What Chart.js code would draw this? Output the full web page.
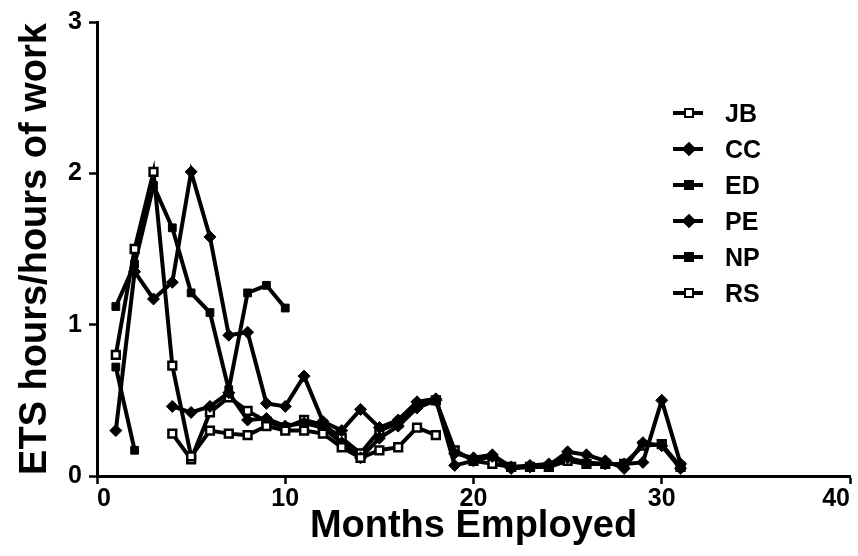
<!DOCTYPE html>
<html>
<head>
<meta charset="utf-8">
<script src="https://cdn.jsdelivr.net/npm/chart.js@4.4.1/dist/chart.umd.min.js"></script>
<style>
  body { margin: 0; background: #fff; }
  #wrap { position: relative; width: 858px; height: 556px; }
  #legend { position: absolute; left: 673px; top: 95px; font: bold 25px "Liberation Sans", Arial, sans-serif; color: #000; }
  .row { display: flex; align-items: center; height: 36px; }
  .sym { position: relative; width: 30px; height: 36px; margin-right: 22px; }
  .sym .ln { position: absolute; left: 0; top: 16px; width: 30px; height: 4px; background: #000; }
  .sym .mk { position: absolute; left: 11px; top: 13px; width: 6px; height: 6px; border: 2.5px solid #000; background: #fff; }
  .sym .mk.fill { background: #000; }
  .sym .mk.dia { transform: rotate(45deg); }
</style>
</head>
<body>
<div id="wrap">
  <canvas id="chart" width="858" height="556"></canvas>
  <div id="legend"></div>
</div>
<script>
// months employed (x values)
var months = [1,2,3,4,5,6,7,8,9,10,11,12,13,14,15,16,17,18,19,20,21,22,23,24,25,26,27,28,29,30,31];

var seriesNames = ['JB', 'CC', 'ED', 'PE', 'NP', 'RS'];

var jb = [0.80,1.50,2.01,0.73,0.13,0.30,0.28,0.27,0.33,0.30,0.30,0.28,0.19,0.12,0.17,0.19,0.32,0.27,
          null,null,null,null,null,null,null,null,null,null,null,null,null];
var cc = [0.30,1.35,1.17,1.28,2.01,1.58,0.93,0.95,0.48,0.46,0.66,0.36,0.30,0.44,0.32,0.37,0.49,0.51,
          0.07,0.10,0.13,0.05,0.06,0.07,0.16,0.14,0.10,0.05,0.22,0.20,0.05];
var ed = [0.72,0.17,null,null,null,null,null,null,null,null,null,null,null,null,null,null,null,null,
          null,null,null,null,null,null,null,null,null,null,null,null,null];
var pe = [null,null,null,0.46,0.42,0.46,0.55,0.37,0.38,0.33,0.35,0.32,0.22,0.12,0.25,0.33,0.45,0.50,
          0.15,0.12,0.14,0.06,0.07,0.08,0.12,0.09,0.08,0.08,0.09,0.50,0.08];
var np = [1.12,1.40,1.92,1.64,1.21,1.08,0.57,1.21,1.26,1.11,null,null,null,null,null,null,null,null,
          null,null,null,null,null,null,null,null,null,null,null,null,null];
var rs = [null,null,null,0.28,0.11,0.42,0.52,0.43,0.36,0.32,0.37,0.34,0.25,0.15,0.30,0.35,0.47,0.50,
          0.17,0.10,0.08,0.06,0.06,0.06,0.10,0.08,0.08,0.08,0.20,0.21,0.06];

var xTicks = [0, 10, 20, 30, 40];
var yTicks = [0, 1, 2, 3];

var allValues = [jb, cc, ed, pe, np, rs];
// marker per series: [pointStyle, filled]
var markers = [['rect', false], ['rectRot', true], ['rect', true], ['rectRot', true], ['rect', true], ['rect', false]];

function toPoints(vals) {
	var pts = [];
	for (var i = 0; i < months.length; i++) {
		pts.push({ x: months[i], y: vals[i] });
	}
	return pts;
}

var datasets = [];
for (var s = 0; s < seriesNames.length; s++) {
	var filled = markers[s][1];
	datasets.push({
		label: seriesNames[s],
		data: toPoints(allValues[s]),
		borderColor: '#000',
		borderWidth: 4,
		pointStyle: markers[s][0],
		pointRadius: markers[s][0] == 'rectRot' ? 6 : 5.5,
		pointBorderWidth: filled ? 1 : 2.5,
		pointBackgroundColor: filled ? '#000' : '#fff',
		pointBorderColor: '#000',
		spanGaps: false,
		tension: 0
	});
}

var fontFam = '"Liberation Sans", Arial, sans-serif';

var ctx = document.getElementById('chart').getContext('2d');
var chart = new Chart(ctx, {
	type: 'line',
	data: { datasets: datasets },
	options: {
		responsive: false,
		animation: false,
		devicePixelRatio: 1,
		layout: { padding: { top: 22, right: 7, left: 0, bottom: 0 } },
		plugins: {
			legend: { display: false },
			tooltip: { enabled: false }
		},
		scales: {
			x: {
				type: 'linear',
				min: 0,
				max: 40,
				afterBuildTicks: function(scale) {
					scale.ticks = xTicks.map(function(v) { return { value: v }; });
				},
				afterFit: function(scale) {
					scale.height = 80;
					scale.paddingLeft = 0;
					scale.paddingRight = 0;
				},
				border: { color: '#000', width: 3 },
				grid: { drawOnChartArea: false, color: '#000', tickLength: 8, tickWidth: 2.5 },
				ticks: {
					color: '#000',
					align: 'inner',
					maxRotation: 0,
					padding: 0,
					font: { family: fontFam, size: 25, weight: 'bold' }
				},
				title: {
					display: true,
					text: 'Months Employed',
					color: '#000',
					padding: { top: 0, bottom: 10 },
					font: { family: fontFam, size: 38, weight: 'bold', lineHeight: 1 }
				}
			},
			y: {
				min: 0,
				max: 3,
				afterBuildTicks: function(scale) {
					scale.ticks = yTicks.map(function(v) { return { value: v }; });
				},
				afterFit: function(scale) {
					scale.width = 97;
					scale.paddingTop = 0;
					scale.paddingBottom = 0;
				},
				border: { color: '#000', width: 3 },
				grid: { drawOnChartArea: false, color: '#000', tickLength: 8, tickWidth: 2.5 },
				ticks: {
					color: '#000',
					padding: 7,
					font: { family: fontFam, size: 25, weight: 'bold' }
				},
				title: {
					display: true,
					text: 'ETS hours/hours of work',
					color: '#000',
					padding: { top: 17, bottom: 0 },
					font: { family: fontFam, size: 38, weight: 'bold', lineHeight: 1 }
				}
			}
		}
	}
});

// legend drawn as html text over the plot
var legend = document.getElementById('legend');
for (var k = 0; k < seriesNames.length; k++) {
	var row = document.createElement('div');
	row.className = 'row';
	var sym = document.createElement('div');
	sym.className = 'sym';
	var ln = document.createElement('div');
	ln.className = 'ln';
	var mk = document.createElement('div');
	mk.className = 'mk' + (markers[k][1] ? ' fill' : '') + (markers[k][0] == 'rectRot' ? ' dia' : '');
	sym.appendChild(ln);
	sym.appendChild(mk);
	var txt = document.createElement('span');
	txt.textContent = seriesNames[k];
	row.appendChild(sym);
	row.appendChild(txt);
	legend.appendChild(row);
}
</script>
</body>
</html>
